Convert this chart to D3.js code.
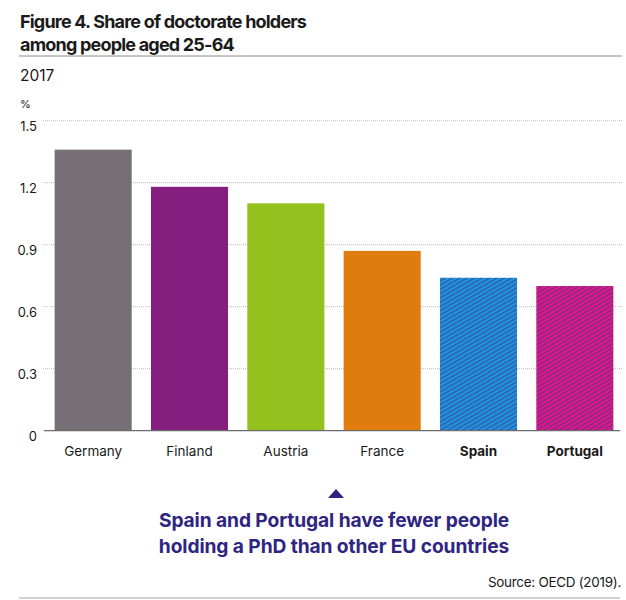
<!DOCTYPE html>
<html>
<head>
<meta charset="utf-8">
<script src="https://cdn.jsdelivr.net/npm/d3@7"></script>
<style>
  html, body { margin: 0; padding: 0; background: #fff; }
  svg { display: block; font-family: Inter, "Noto Sans", sans-serif; }
</style>
</head>
<body>
<svg id="chart" width="626" height="600"></svg>
<script>
const categories = ["Germany", "Finland", "Austria", "France", "Spain", "Portugal"];
const values = [1.36, 1.18, 1.10, 0.87, 0.74, 0.70];
const highlighted = ["Spain", "Portugal"];
const yTicks = [0, 0.3, 0.6, 0.9, 1.2, 1.5];
const tickLabels = ["0", "0.3", "0.6", "0.9", "1.2", "1.5"];
const barColors = ["#766f75", "#851f7f", "#95c11f", "#e07b0e", "url(#hatchSpain)", "url(#hatchPortugal)"];
const titleLines = ["Figure 4. Share of doctorate holders", "among people aged 25-64"];
const subtitle = "2017";
const unit = "%";
const noteLines = ["Spain and Portugal have fewer people", "holding a PhD than other EU countries"];
const source = "Source: OECD (2019).";

const svg = d3.select("#chart");
const defs = svg.append("defs");

function hatch(id, base, stripe) {
  const p = defs.append("pattern")
    .attr("id", id)
    .attr("patternUnits", "userSpaceOnUse")
    .attr("width", 8).attr("height", 3.7)
    .attr("patternTransform", "rotate(-30)");
  p.append("rect").attr("width", 8).attr("height", 3.7).attr("fill", base);
  p.append("rect").attr("y", 0).attr("width", 8).attr("height", 1.5).attr("fill", stripe);
}
hatch("hatchSpain", "#1b98d8", "#3559b5");
hatch("hatchPortugal", "#e6167d", "#7b2a98");

const x = d3.scaleBand().domain(categories).range([45, 623]).paddingInner(0.2).paddingOuter(0.1);
const y = d3.scaleLinear().domain([0, 1.5]).range([430.7, 120.7]);

// Title
svg.append("g").selectAll("text").data(titleLines).join("text")
  .attr("x", 20).attr("y", (d, i) => 28 + i * 23)
  .attr("font-size", 18).attr("font-weight", 700).attr("fill", "#1a1a1a")
  .attr("letter-spacing", -0.8)
  .text(d => d);
svg.append("line").attr("x1", 19).attr("x2", 622).attr("y1", 56).attr("y2", 56)
  .attr("stroke", "#c6c6c6").attr("stroke-width", 2);

svg.append("text").attr("x", 20).attr("y", 81).attr("font-size", 15.5).attr("fill", "#1a1a1a").text(subtitle);
svg.append("text").attr("x", 20).attr("y", 108).attr("font-size", 11).attr("fill", "#1a1a1a").text(unit);

// Y axis labels
const yAxis = d3.axisLeft(y).tickValues(yTicks).tickSize(0).tickFormat((d, i) => tickLabels[i]);
const gAxis = svg.append("g").attr("transform", "translate(37,0)").call(yAxis);
gAxis.select(".domain").remove();
gAxis.selectAll("text").attr("font-size", 13).attr("fill", "#1a1a1a")
  .attr("font-family", "Inter, sans-serif").attr("dy", "0.75em").attr("x", 0);

// Gridlines
svg.append("g").selectAll("line").data(yTicks.filter(d => d > 0)).join("line")
  .attr("x1", 43).attr("x2", 622)
  .attr("y1", d => y(d)).attr("y2", d => y(d))
  .attr("stroke", "#bdbdbd").attr("stroke-width", 1).attr("stroke-dasharray", "1,1");

// Bars
svg.append("g").selectAll("rect").data(categories).join("rect")
  .attr("x", d => x(d)).attr("width", x.bandwidth())
  .attr("y", (d, i) => y(values[i]))
  .attr("height", (d, i) => y(0) - y(values[i]))
  .attr("fill", (d, i) => barColors[i]);

// Baseline
svg.append("line").attr("x1", 44).attr("x2", 620).attr("y1", y(0)).attr("y2", y(0))
  .attr("stroke", "#6b6b6b").attr("stroke-width", 1.3);

// Category labels
svg.append("g").selectAll("text").data(categories).join("text")
  .attr("x", d => x(d) + x.bandwidth() / 2).attr("y", 456)
  .attr("text-anchor", "middle").attr("font-size", 13.5)
  .attr("font-weight", d => highlighted.includes(d) ? 700 : 400)
  .attr("fill", "#1a1a1a").text(d => d);

// Annotation
const noteColor = "#2e2581";
svg.append("path").attr("d", "M328,498 L336,489 L344,498 Z").attr("fill", noteColor);
svg.append("g").selectAll("text").data(noteLines).join("text")
  .attr("x", 334).attr("y", (d, i) => 527 + i * 26)
  .attr("text-anchor", "middle").attr("font-size", 19.2).attr("font-weight", 700)
  .attr("letter-spacing", -0.1)
  .attr("fill", noteColor).text(d => d);

svg.append("text").attr("x", 621).attr("y", 587).attr("text-anchor", "end")
  .attr("font-size", 13.5).attr("fill", "#1a1a1a").attr("letter-spacing", -0.3).text(source);
svg.append("line").attr("x1", 19).attr("x2", 620).attr("y1", 598).attr("y2", 598)
  .attr("stroke", "#a8a8a8").attr("stroke-width", 1.2);
</script>
</body>
</html>
